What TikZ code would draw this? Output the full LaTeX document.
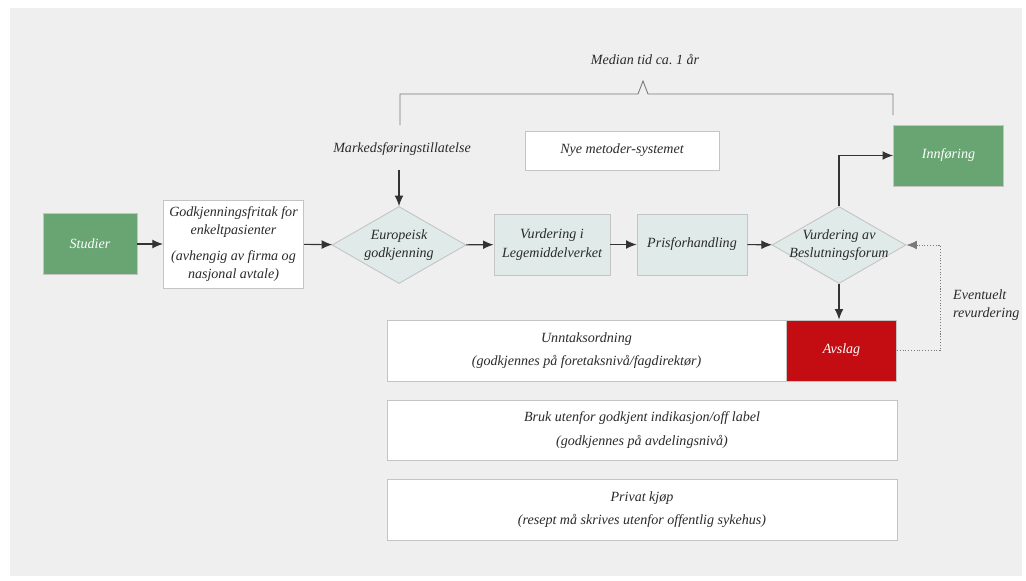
\documentclass[tikz,border=0pt]{standalone}
\usepackage{fontspec}
\setmainfont{Liberation Serif}
\usepackage{tikz}
\usetikzlibrary{positioning,shapes.geometric,arrows.meta}
\usepackage{xcolor}
\definecolor{BgGray}{HTML}{EFEFEF}
\definecolor{BoxGreen}{HTML}{68A572}
\definecolor{BoxRed}{HTML}{C40D12}
\definecolor{BoxBlue}{HTML}{DFEAE9}
\definecolor{EdgeGray}{HTML}{C4C4C4}
\definecolor{LineGray}{HTML}{7A7A7A}
\definecolor{TextGray}{HTML}{2A2A2A}
\frenchspacing

\begin{document}
\begin{tikzpicture}[
    font=\fontsize{8}{10.5}\selectfont\itshape,
    every node/.style={
        text=TextGray,
        align=center
    },
    plainbox/.style={
        rectangle,
        draw=EdgeGray,
        fill=white,
        line width=0.5pt
    },
    greenbox/.style={
        rectangle,
        draw=EdgeGray,
        fill=BoxGreen,
        text=white,
        line width=0.5pt,
        minimum width=2.2cm,
        minimum height=1.22cm
    },
    bluebox/.style={
        rectangle,
        draw=EdgeGray,
        fill=BoxBlue,
        line width=0.5pt,
        minimum height=1.22cm
    },
    choice/.style={
        diamond,
        draw=EdgeGray,
        fill=BoxBlue,
        line width=0.5pt,
        inner sep=0pt,
        minimum width=2.68cm,
        minimum height=1.54cm
    },
    flow/.style={
        draw=black!80,
        line width=0.6pt,
        -{Latex[length=6pt,width=5pt]}
    },
    bracket/.style={
        draw=LineGray,
        line width=0.5pt
    }
]

% background
\fill[BgGray] (0.2,-0.16) rectangle (20.44,-11.52);
\useasboundingbox (0,0) rectangle (20.52,-11.6);

% main row
\node[greenbox, minimum width=1.88cm] (studier) at (1.80,-4.88) {Studier};
\node[plainbox, minimum width=2.78cm, minimum height=1.76cm] (fritak) at (4.67,-4.88)
    {Godkjenningsfritak for\\ enkeltpasienter\\[4pt] (avhengig av firma og\\ nasjonal avtale)};
\node[choice] (euro) at (7.98,-4.90) {};
\node (euro-txt) at (euro) {Europeisk\\ godkjenning};
\node[bluebox, minimum width=2.32cm] (lmv) at (11.04,-4.89) {Vurdering i\\ Legemiddelverket};
\node[bluebox, minimum width=2.20cm] (pris) at (13.84,-4.89) {Prisforhandling};
\node[choice] (besl) at (16.78,-4.90) {};
\node (besl-txt) at (besl) {Vurdering av\\ Beslutningsforum};

% top row
\node (markeds) at (8.04,-2.98) {Markedsføringstillatelse};
\node[plainbox, minimum width=3.88cm, minimum height=0.78cm] (nye) at (12.44,-3.01) {Nye metoder-systemet};
\node[greenbox] (innf) at (18.97,-3.11) {Innføring};
\node (median) at (12.9,-1.2) {Median tid ca. 1 år};

% lower boxes
\node[plainbox, minimum width=7.98cm, minimum height=1.22cm] (unntak) at (11.73,-7.01)
    {Unntaksordning\\[3pt] (godkjennes på foretaksnivå/fagdirektør)};
\node[greenbox, fill=BoxRed] (avslag) at (16.83,-7.01) {Avslag};
\node[plainbox, minimum width=10.2cm, minimum height=1.2cm] (bruk) at (12.84,-8.60)
    {Bruk utenfor godkjent indikasjon/off label\\[3pt] (godkjennes på avdelingsnivå)};
\node[plainbox, minimum width=10.2cm, minimum height=1.22cm] (privat) at (12.84,-10.19)
    {Privat kjøp\\[3pt] (resept må skrives utenfor offentlig sykehus)};
\node[anchor=west, align=left] (revurd) at (18.94,-6.1) {Eventuelt\\ revurdering};

% bracket
\draw[bracket] (8.0,-2.5) -- (8.0,-1.88) -- (12.76,-1.88) -- (12.86,-1.62)
    -- (12.96,-1.88) -- (17.86,-1.88) -- (17.86,-2.3);

% arrows
\draw[flow] (studier) -- (fritak);
\draw[flow] (fritak) -- (euro);
\draw[flow] (euro) -- (lmv);
\draw[flow] (lmv) -- (pris);
\draw[flow] (pris) -- (besl);
\draw[flow] (euro.north |- markeds.south) ++(0,-0.16) -- (euro.north);
\draw[flow] (besl.north) |- (innf.west);
\draw[flow] (besl.south) -- (besl.south |- avslag.north);
\draw[flow, densely dotted, line width=0.5pt, draw=LineGray] (avslag.east) -- (18.8,-7.01) |- (besl.east);

\end{tikzpicture}
\end{document}
